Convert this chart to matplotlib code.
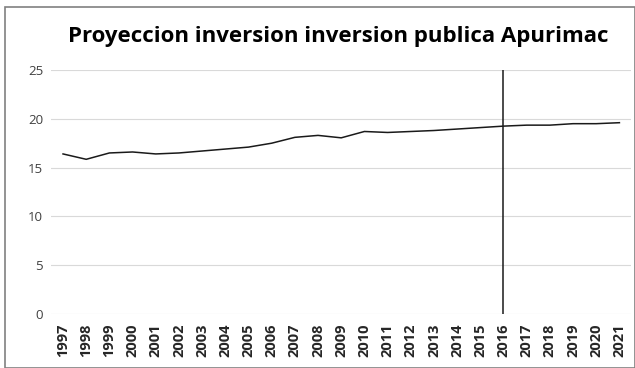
import matplotlib
matplotlib.use("Agg")
import matplotlib.pyplot as plt
from matplotlib.patches import Rectangle

plt.rcParams.update({"font.family": "Open Sans"})

years = [str(y) for y in range(1997, 2022)]
valores = [16.4, 15.85, 16.5, 16.6, 16.4, 16.5, 16.7, 16.9, 17.1, 17.5,
           18.1, 18.3, 18.05, 18.7, 18.6, 18.7, 18.8, 18.95, 19.1, 19.25,
           19.35, 19.35, 19.5, 19.5, 19.6]
corte = "2016"
y_ticks = [0, 5, 10, 15, 20, 25]

fig = plt.figure(figsize=(6.35, 3.68), dpi=100)
ax = fig.add_axes([0.081, 0.1467, 0.9127, 0.6631])

x = range(len(years))
ax.plot(x, valores, color="#1a1a1a", lw=1.1)
xc = years.index(corte)
ax.plot([xc, xc], [0, 25], color="#1a1a1a", lw=1.1)

ax.set_xlim(-0.5, len(years) - 0.5)
ax.set_ylim(0, 25)
ax.set_yticks(y_ticks)
ax.yaxis.grid(True, color="#d9d9d9", lw=0.8)
ax.set_axisbelow(True)
for s in ax.spines.values():
    s.set_visible(False)
ax.set_xticks(list(x))
ax.set_xticklabels(years, rotation=90, fontsize=10.5, fontweight="bold", color="#262626",
                   family=["Liberation Sans Narrow", "Open Sans"])
ax.tick_params(axis="both", length=0)
ax.tick_params(axis="y", labelsize=9.5, labelcolor="#404040", pad=6)
ax.tick_params(axis="x", pad=7)

fig.text(0.533, 0.9, "Proyeccion inversion inversion publica Apurimac",
         ha="center", va="center", fontsize=16, fontweight="bold", color="#000000")
fig.patches.append(Rectangle((0.008, 0.0), 0.992, 0.981, transform=fig.transFigure,
                             fill=False, edgecolor="#808080", lw=1.2))

fig.savefig("out.png", dpi=100, facecolor="white")
